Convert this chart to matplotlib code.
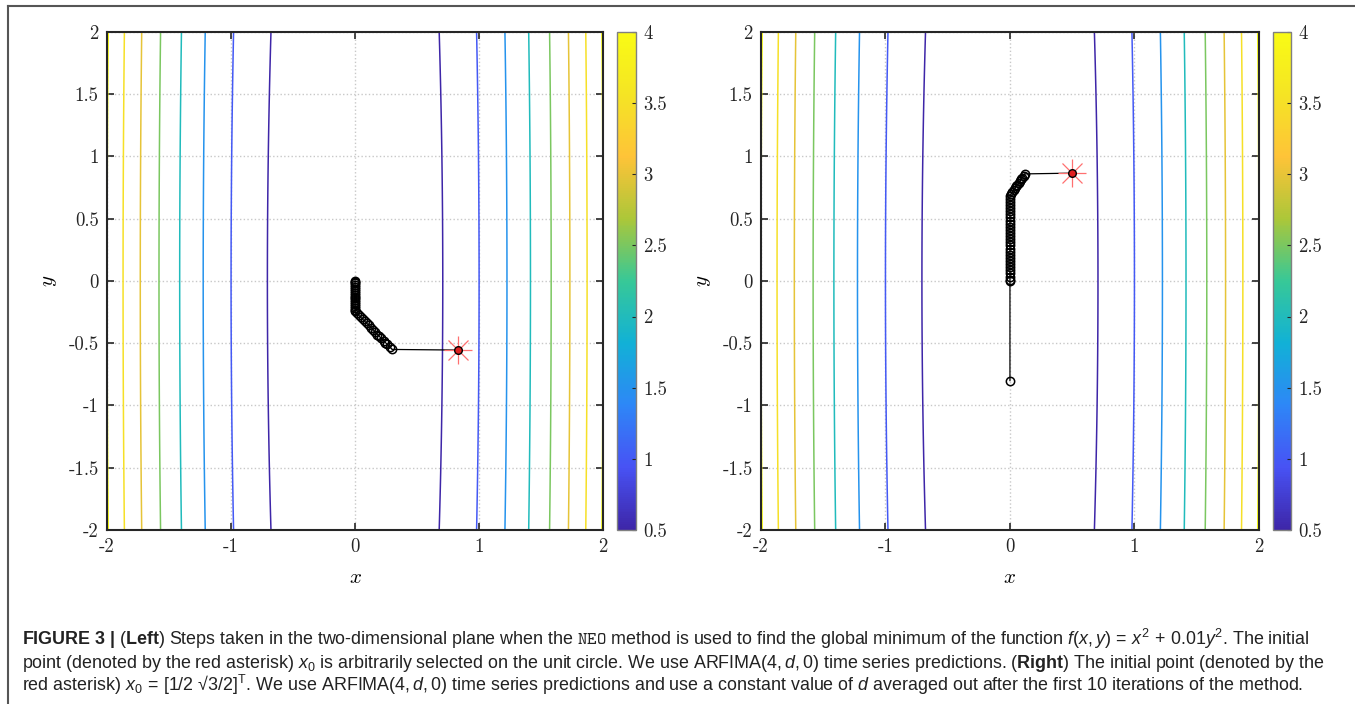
import numpy as np
import matplotlib
matplotlib.use('Agg')
import matplotlib.pyplot as plt
from matplotlib.colors import LinearSegmentedColormap, Normalize
from matplotlib.lines import Line2D

# function f(x, y) = a*x^2 + b*y^2 and the contour levels drawn
coef_x = 1.0
coef_y = 0.01
levels = [0.5, 1.0, 1.5, 2.0, 2.5, 3.0, 3.5, 4.0]

tick_vals = [-2, -1.5, -1, -0.5, 0, 0.5, 1, 1.5, 2]
y_tick_labels = ['-2', '-1.5', '-1', '-0.5', '0', '0.5', '1', '1.5', '2']
x_tick_vals = [-2, -1, 0, 1, 2]
x_tick_labels = ['-2', '-1', '0', '1', '2']
cb_ticks = [0.5, 1, 1.5, 2, 2.5, 3, 3.5, 4]
cb_labels = ['0.5', '1', '1.5', '2', '2.5', '3', '3.5', '4']

# steps of the method, left panel
left_x = [0.832, 0.30, 0.28, 0.26, 0.245, 0.23, 0.21, 0.195, 0.18, 0.16, 0.145,
          0.13, 0.11, 0.095, 0.08, 0.06, 0.045, 0.03, 0.015, 0.0,
          0.0, 0.0, 0.0, 0.0, 0.0, 0.0, 0.0, 0.0, 0.0, 0.0, 0.0, 0.0, 0.0,
          0.0, 0.0, 0.0, 0.0]
left_y = [-0.555, -0.55, -0.53, -0.51, -0.495, -0.48, -0.46, -0.445, -0.43, -0.41, -0.39,
          -0.375, -0.355, -0.34, -0.325, -0.305, -0.29, -0.275, -0.26, -0.245,
          -0.23, -0.215, -0.20, -0.185, -0.17, -0.155, -0.14, -0.125, -0.11, -0.095,
          -0.08, -0.065, -0.05, -0.035, -0.02, -0.005, 0.0]

# steps of the method, right panel
right_x = [0.5, 0.12, 0.11, 0.10, 0.09, 0.08, 0.07, 0.06, 0.05, 0.04, 0.03, 0.02, 0.01, 0.0,
           0.0, 0.0, 0.0, 0.0, 0.0, 0.0, 0.0, 0.0, 0.0, 0.0, 0.0, 0.0, 0.0, 0.0,
           0.0, 0.0, 0.0, 0.0, 0.0, 0.0, 0.0, 0.0, 0.0, 0.0, 0.0, 0.0, 0.0, 0.0, 0.0]
right_y = [0.866, 0.86, 0.845, 0.83, 0.815, 0.80, 0.785, 0.77, 0.76, 0.745, 0.73, 0.715, 0.70, 0.685,
           0.66, 0.635, 0.61, 0.585, 0.56, 0.535, 0.51, 0.485, 0.46, 0.435, 0.41, 0.385, 0.36, 0.335,
           0.31, 0.285, 0.26, 0.235, 0.21, 0.185, 0.16, 0.135, 0.11, 0.085, 0.06, 0.035, 0.01, 0.0, -0.80]

caption_lines = [
    r"$\mathbf{FIGURE\ 3\ |}$ ($\mathbf{Left}$) Steps taken in the two-dimensional plane when the $\mathtt{NEO}$ method is used to find the global minimum of the function $f(x,y)\,=\,x^2\,+\,0.01y^2$. The initial",
    r"point (denoted by the red asterisk) $x_0$ is arbitrarily selected on the unit circle. We use ARFIMA$(4,d,0)$ time series predictions. ($\mathbf{Right}$) The initial point (denoted by the",
    r"red asterisk) $x_0\,=\,[1/2$ √3$/2]^\mathrm{T}$. We use ARFIMA$(4,d,0)$ time series predictions and use a constant value of $d$ averaged out after the first 10 iterations of the method.",
]

plt.rcParams['mathtext.fontset'] = 'custom'
plt.rcParams['mathtext.rm'] = 'Liberation Sans'
plt.rcParams['mathtext.it'] = 'Liberation Sans:italic'
plt.rcParams['mathtext.bf'] = 'Liberation Sans:bold'
plt.rcParams['mathtext.tt'] = 'cmtt10'
plt.rcParams['axes.unicode_minus'] = False

parula = LinearSegmentedColormap.from_list('parula', [
    (0.2422, 0.1504, 0.6603), (0.2810, 0.3228, 0.9578), (0.1786, 0.5289, 0.9682),
    (0.0689, 0.6948, 0.8394), (0.2161, 0.7843, 0.5923), (0.6720, 0.7793, 0.2227),
    (0.9970, 0.7659, 0.2199), (0.9598, 0.8949, 0.1425), (0.9769, 0.9839, 0.0805)])

fig = plt.figure(figsize=(13.55, 7.04), dpi=100)

gx = np.linspace(-2, 2, 401)
gy = np.linspace(-2, 2, 401)
X, Y = np.meshgrid(gx, gy)
Z = coef_x * X ** 2 + coef_y * Y ** 2

tick_font = dict(family='cmr10', size=13.5)


def panel(ax_rect, cb_rect, px, py):
    norm = Normalize(vmin=0.5, vmax=4)
    ax = fig.add_axes(ax_rect)
    ax.contour(X, Y, Z, levels=levels, cmap=parula, norm=norm, linewidths=1.1)
    ax.plot(px[1:], py[1:], color='black', lw=0.9, marker='o', ms=6,
            mfc='none', mec='black', mew=1.1, zorder=3)
    ax.plot(px[:2], py[:2], color='black', lw=0.9, zorder=3)
    # starting point: red asterisk
    ax.plot(px[0], py[0], marker='+', ms=20, mew=0.9, color='#ff7070', zorder=4)
    ax.plot(px[0], py[0], marker='x', ms=14, mew=0.9, color='#ff7070', zorder=4)
    ax.plot(px[0], py[0], marker='o', ms=5.5, mfc='#e02020', mec='black', mew=1.0, zorder=5)

    ax.set_xlim(-2, 2)
    ax.set_ylim(-2, 2)
    ax.set_xticks(x_tick_vals)
    ax.set_xticklabels(x_tick_labels, fontdict=tick_font)
    ax.set_yticks(tick_vals)
    ax.set_yticklabels(y_tick_labels, fontdict=tick_font)
    ax.grid(True, ls=':', color='#c8c8c8', lw=1.0)
    ax.set_axisbelow(True)
    ax.tick_params(direction='in', top=True, right=True, length=5,
                   width=1.2, colors='#262626', pad=6)
    for s in ax.spines.values():
        s.set_linewidth(1.5)
        s.set_color('#262626')
    ax.set_xlabel('$x$', fontsize=15, math_fontfamily='cm', labelpad=8)
    ax.set_ylabel('$y$', fontsize=15, math_fontfamily='cm', labelpad=7)

    cax = fig.add_axes(cb_rect)
    sm = plt.cm.ScalarMappable(norm=norm, cmap=parula)
    cb = fig.colorbar(sm, cax=cax)
    cb.ax.set_yticks(cb_ticks)
    cb.ax.set_yticklabels(cb_labels, fontdict=tick_font)
    cb.ax.tick_params(direction='in', length=3, width=0.8, colors='#262626', pad=5)
    cb.outline.set_edgecolor('#808080')
    cb.outline.set_linewidth(1.0)
    return ax


panel([0.0790, 0.2472, 0.3661, 0.7074], [0.4554, 0.2472, 0.0140, 0.7074], left_x, left_y)
panel([0.5616, 0.2472, 0.3675, 0.7074], [0.9395, 0.2472, 0.0133, 0.7074], right_x, right_y)

# outer frame of the figure panel
fig.add_artist(Line2D([8 / 1355, 1.0], [1 - 6 / 704, 1 - 6 / 704], color='#555555', lw=1.5))
fig.add_artist(Line2D([8 / 1355, 8 / 1355], [0.0, 1 - 6 / 704], color='#555555', lw=1.5))

for i, line in enumerate(caption_lines):
    fig.text(22 / 1355, 1 - (645 + 23 * i) / 704, line, ha='left', va='baseline',
             fontsize=12.9, color='#222222', family='Liberation Sans')

fig.savefig('out.png', dpi=100)
